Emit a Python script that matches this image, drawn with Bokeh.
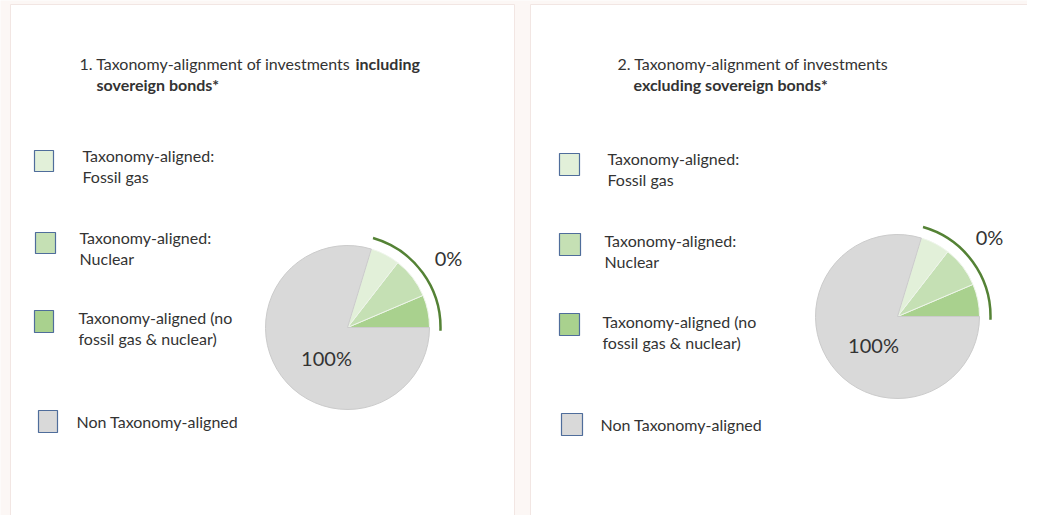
import numpy as np
from bokeh.plotting import figure
from bokeh.models import Range1d
from bokeh.embed import file_html
from bokeh.resources import INLINE
from bokeh.core.properties import value

# ---------------- data ----------------
panel_title_normal = ["1. Taxonomy-alignment of investments ", "2. Taxonomy-alignment of investments"]
panel_title_bold_inline = ["including", ""]
panel_title_line2 = ["sovereign bonds*", "excluding sovereign bonds*"]

categories = [
    "Taxonomy-aligned: Fossil gas",
    "Taxonomy-aligned: Nuclear",
    "Taxonomy-aligned (no fossil gas & nuclear)",
    "Non Taxonomy-aligned",
]
legend_lines = [
    ["Taxonomy-aligned:", "Fossil gas"],
    ["Taxonomy-aligned:", "Nuclear"],
    ["Taxonomy-aligned (no", "fossil gas & nuclear)"],
    ["Non Taxonomy-aligned"],
]
colors = ["#e2f0d9", "#c5e0b4", "#a9d18e", "#d9d9d9"]
# share of the circle each slice takes as drawn (%), same for both charts
drawn_share = [5.8, 8.1, 6.4, 79.7]
aligned_label = ["0%", "0%"]
non_aligned_label = ["100%", "100%"]

# ---------------- layout ----------------
W, H = 1027, 515
def fx(px):
    return px
def fy(py):
    return H - py

FONT = value("Lato")
TXT = "#333333"
FS = "16px"

p = figure(width=W, height=H, x_range=Range1d(0, W), y_range=Range1d(0, H),
           output_backend="svg", toolbar_location=None,
           x_axis_location=None, y_axis_location=None, min_border=0,
           outline_line_color=None, background_fill_color="#fcf7f5",
           border_fill_color="#fcf7f5")
p.grid.visible = False

# panels
p.quad(left=[fx(10), fx(530)], right=[fx(514), fx(1034)], bottom=[-10, -10],
       top=[fy(4), fy(4)], fill_color="white", line_color="#f2e6e3", line_width=1)

# titles
title_pos = [dict(x1=79, y1=63, xb=355, x2=96, y2=84),
             dict(x1=617, y1=63, xb=None, x2=633, y2=84)]
for i, tp in enumerate(title_pos):
    p.text(x=[fx(tp["x1"])], y=[fy(tp["y1"])], text=[panel_title_normal[i]],
           text_font=FONT, text_font_size=FS, text_color=TXT,
           text_baseline="middle", text_align="left")
    if panel_title_bold_inline[i]:
        p.text(x=[fx(tp["xb"])], y=[fy(tp["y1"])], text=[panel_title_bold_inline[i]],
               text_font=FONT, text_font_size=FS, text_font_style="bold",
               text_color=TXT, text_baseline="middle", text_align="left")
    p.text(x=[fx(tp["x2"])], y=[fy(tp["y2"])], text=[panel_title_line2[i]],
           text_font=FONT, text_font_size=FS, text_font_style="bold",
           text_color=TXT, text_baseline="middle", text_align="left")

# legends: square (x0,x1,y0,y1) and text (x, first line y)
legend_layout = [
    [((34, 53, 150, 171), (82, 155)), ((35, 55, 232, 253), (79, 237)),
     ((34, 53, 310, 332), (78, 317)), ((38, 57, 410, 432), (76, 421))],
    [((559, 579, 153, 175), (607, 158)), ((559, 580, 233, 255), (604, 240)),
     ((559, 579, 313, 335), (602, 321)), ((561, 582, 413, 435), (600, 424))],
]
LINE_GAP = 21
for panel in legend_layout:
    for k, (sq, tx) in enumerate(panel):
        p.quad(left=[fx(sq[0])], right=[fx(sq[1])], top=[fy(sq[2])], bottom=[fy(sq[3])],
               fill_color=colors[k], line_color="#4f6d9b", line_width=1.2)
        for j, line in enumerate(legend_lines[k]):
            p.text(x=[fx(tx[0])], y=[fy(tx[1] + j * LINE_GAP)], text=[line],
                   text_font=FONT, text_font_size=FS, text_color=TXT,
                   text_baseline="middle", text_align="left")

# pies
pie_centers = [(347, 327), (897, 316)]
label0_pos = [(448, 257), (989, 236)]
label100_pos = [(326, 357), (873, 344)]
R = 82
# draw order counter-clockwise from 3 o'clock: no fossil/nuclear, nuclear, fossil gas, non-aligned
order = [2, 1, 0, 3]
for i, (cx, cy) in enumerate(pie_centers):
    shares = np.array([drawn_share[k] for k in order], dtype=float)
    ends = np.cumsum(shares) / shares.sum() * 2 * np.pi
    starts = np.concatenate([[0.0], ends[:-1]])
    fills = [colors[k] for k in order]
    lines = ["#eef5ea", "#eef5ea", "#eef5ea", "#cbcbcb"]
    p.wedge(x=[fx(cx)] * 4, y=[fy(cy)] * 4, radius=R, start_angle=list(starts),
            end_angle=list(ends), fill_color=fills, line_color=lines, line_width=1)
    aligned_end = ends[2]
    p.arc(x=[fx(cx)], y=[fy(cy)], radius=R + 11, start_angle=np.deg2rad(-2.0),
          end_angle=aligned_end + np.deg2rad(1.0), line_color="#548235", line_width=2.5)
    p.text(x=[fx(label0_pos[i][0])], y=[fy(label0_pos[i][1])], text=[aligned_label[i]],
           text_font=FONT, text_font_size="20px", text_color=TXT,
           text_baseline="middle", text_align="center")
    p.text(x=[fx(label100_pos[i][0])], y=[fy(label100_pos[i][1])], text=[non_aligned_label[i]],
           text_font=FONT, text_font_size="20px", text_color=TXT,
           text_baseline="middle", text_align="center")

open("out.html", "w").write(file_html(p, INLINE))
